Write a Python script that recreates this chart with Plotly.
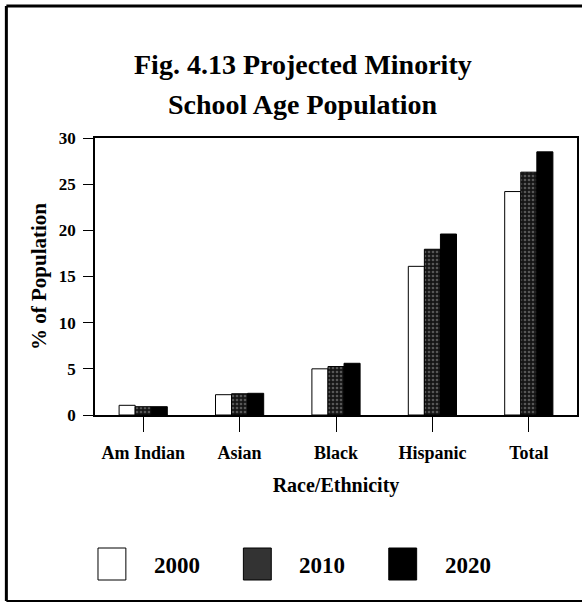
"""plot.py

Projected minority school age population, grouped bars.
"""
import plotly.graph_objects as go

# Data #
categories = ["Am Indian", "Asian", "Black", "Hispanic", "Total"]
years = ["2000", "2010", "2020"]
pct_2000 = [1.05, 2.2, 5.0, 16.1, 24.2]
pct_2010 = [0.9, 2.3, 5.25, 17.95, 26.3]
pct_2020 = [0.9, 2.35, 5.6, 19.6, 28.5]
y_ticks = [0, 5, 10, 15, 20, 25, 30]

# Geometry of the plot area in pixels
W, H = 582, 603
L, R, T, B = 95, 3, 138, 188
PW, PH = W - L - R, H - T - B


def px(x):
    return (x - L) / PW


def py(y):
    return (H - B - y) / PH


FONT = "Liberation Serif"

fig = go.Figure()

styles = {
    "2000": dict(color="white", line=dict(color="black", width=1)),
    "2010": dict(color="#1a1a1a", line=dict(color="black", width=1),
                 pattern=dict(shape=".", fgcolor="#9a9a9a", bgcolor="#151515",
                              size=4, solidity=0.35)),
    "2020": dict(color="black", line=dict(color="black", width=1)),
}

for year, vals in zip(years, [pct_2000, pct_2010, pct_2020]):
    fig.add_trace(go.Bar(x=categories, y=vals, name=year, marker=styles[year],
                         showlegend=False))

fig.update_layout(
    width=W, height=H,
    margin=dict(l=L, r=R, t=T, b=B, pad=0),
    paper_bgcolor="white",
    plot_bgcolor="white",
    barmode="group",
    bargap=0.5,
    bargroupgap=0,
    font=dict(family=FONT, color="black", size=16, weight="bold"),
)

fig.update_xaxes(
    showline=True, linecolor="black", linewidth=1.5, mirror=True,
    ticks="outside", ticklen=15, tickwidth=1, tickcolor="black",
    ticklabelstandoff=6,
    tickfont=dict(size=18, family=FONT, weight="bold"),
    title=dict(text="Race/Ethnicity", font=dict(size=20, family=FONT, weight="bold"),
               standoff=16),
    showgrid=False,
)

fig.update_yaxes(
    range=[0, 30],
    tickvals=y_ticks,
    showline=True, linecolor="black", linewidth=1.5, mirror=True,
    ticks="outside", ticklen=10, tickwidth=1, tickcolor="black",
    ticklabelstandoff=4,
    tickfont=dict(size=17, family=FONT, weight="bold"),
    title=dict(text="% of Population", font=dict(size=21, family=FONT, weight="bold"),
               standoff=6),
    showgrid=False, zeroline=False,
)

# Title, two lines
for text, yc in [("Fig. 4.13 Projected Minority", 64), ("School Age Population", 104)]:
    fig.add_annotation(text=text, x=px(304), y=py(yc), xref="paper", yref="paper",
                       xanchor="center", yanchor="middle", showarrow=False,
                       font=dict(size=28, family=FONT, weight="bold"))

# Legend drawn as boxes + labels
legend_x = [98, 244, 390]
for year, x0 in zip(years, legend_x):
    st = styles[year]
    fig.add_shape(type="rect", xref="paper", yref="paper",
                  x0=px(x0), x1=px(x0 + 28), y0=py(580), y1=py(548),
                  fillcolor=st["color"] if year != "2010" else "#333333",
                  line=dict(color="black", width=1))
    fig.add_annotation(text=year, x=px(x0 + 54), y=py(565), xref="paper", yref="paper",
                       xanchor="left", yanchor="middle", showarrow=False,
                       font=dict(size=23, family=FONT, weight="bold"))

# Outer frame (left, top, bottom)
for (xa, ya, xb, yb, w) in [(6, 6, 6, 601, 3), (6, 6, 590, 6, 3), (6, 601, 590, 601, 2)]:
    fig.add_shape(type="line", xref="paper", yref="paper",
                  x0=px(xa), y0=py(ya), x1=px(xb), y1=py(yb),
                  line=dict(color="black", width=w))

# drop the page's default body margin so the figure sits at (0, 0)
fig.write_html("out.html", config={"displayModeBar": False},
               post_script="document.body.style.margin='0';")
